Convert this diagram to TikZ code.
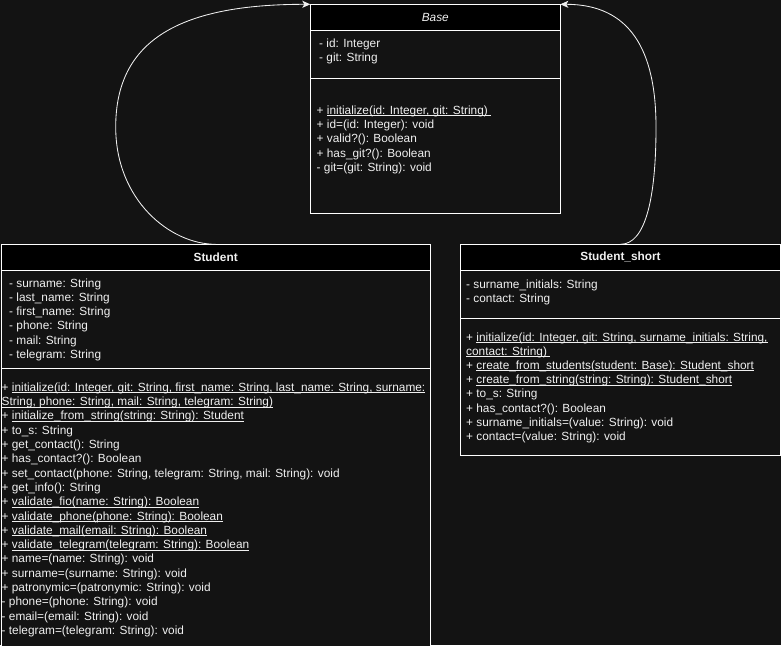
\documentclass[tikz,border=0pt]{standalone}
\usepackage{fontspec}
\setmainfont{Liberation Sans}
\usetikzlibrary{arrows.meta}
\definecolor{bg}{HTML}{131313}
\definecolor{fg}{HTML}{F0F0F0}
\newcommand\myul[1]{\setbox0\hbox{#1}\rlap{\rule[-1.7pt]{\wd0}{0.75pt}}\box0}
\begin{document}
\begin{tikzpicture}[x=1pt,y=-1pt,
  box/.style={draw=white, line width=0.9pt, fill=bg, anchor=north west, inner sep=0pt, outer sep=0pt},
  head/.style={draw=white, line width=0.9pt, fill=black, anchor=north west, inner sep=0pt, outer sep=0pt, text=fg, font=\fontsize{11.85}{14}\selectfont},
  txt/.style={anchor=base west, inner sep=0pt, text=fg, font=\fontsize{11.85}{14}\selectfont},
  sep/.style={draw=white, line width=0.9pt},
  inh/.style={draw=fg, line width=0.85pt, -{Stealth[length=8pt,width=7pt,inset=2pt]}}]
\fill[bg] (0,0) rectangle (781,645);
\useasboundingbox (0,0) rectangle (781,645);
\clip (0,0) rectangle (781,645);

% Base
\node[box, minimum width=250pt, minimum height=209.4pt] (base) at (310.3,4.3) {};
\node[head, minimum width=250pt, minimum height=26pt] (basehead) at (310.3,4.3) {\itshape Base};
\draw[sep] (310.3,78.7) coordinate (bs1) -- (560.3,78.7) coordinate (bs2);
\foreach \txtline [count=\i from 0] in {{- id: Integer},{- git: String}}
  \node[txt] (base-a\i) at (319,{47.6+14.2*\i}) {\txtline};
\foreach \txtline [count=\i from 0] in {
  {+ \myul{initialize(id: Integer, git: String)\ }},
  {+ id=(id: Integer): void},
  {+ valid?(): Boolean},
  {+ has\_git?(): Boolean},
  {- git=(git: String): void}}
  \node[txt] (base-m\i) at (316.5,{114.4+14.25*\i}) {\txtline};

% Student
\node[box, minimum width=429.3pt, minimum height=420pt] (student) at (1,244.3) {};
\node[head, minimum width=429.3pt, minimum height=25.7pt] (studenthead) at (1,244.3) {\bfseries Student};
\draw[sep] (1,368.3) coordinate (ss1) -- (430.3,368.3) coordinate (ss2);
\foreach \txtline [count=\i from 0] in {
  {- surname: String},
  {- last\_name: String},
  {- first\_name: String},
  {- phone: String},
  {- mail: String},
  {- telegram: String}}
  \node[txt] (student-a\i) at (9,{287.6+14.1*\i}) {\txtline};
\foreach \txtline [count=\i from 0] in {
  {+ \myul{initialize(id: Integer, git: String, first\_name: String, last\_name: String, surname:}},
  {\myul{String, phone: String, mail: String, telegram: String)}},
  {+ \myul{initialize\_from\_string(string: String): Student}},
  {+ to\_s: String},
  {+ get\_contact(): String},
  {+ has\_contact?(): Boolean},
  {+ set\_contact(phone: String, telegram: String, mail: String): void},
  {+ get\_info(): String},
  {+ \myul{validate\_fio(name: String): Boolean}},
  {+ \myul{validate\_phone(phone: String): Boolean}},
  {+ \myul{validate\_mail(email: String): Boolean}},
  {+ \myul{validate\_telegram(telegram: String): Boolean}},
  {+ name=(name: String): void},
  {+ surname=(surname: String): void},
  {+ patronymic=(patronymic: String): void},
  {- phone=(phone: String): void},
  {- email=(email: String): void},
  {- telegram=(telegram: String): void}}
  \node[txt] (student-m\i) at (1.5,{391.3+14.3*\i}) {\txtline};

% Student_short
\node[box, minimum width=320.4pt, minimum height=211.4pt] (short) at (460.3,244.3) {};
\node[head, minimum width=320.4pt, minimum height=25.7pt] (shorthead) at (460.3,244.3) {\bfseries Student\_short};
\draw[sep] (460.3,318.3) coordinate (sh1) -- (780.7,318.3) coordinate (sh2);
\foreach \txtline [count=\i from 0] in {
  {- surname\_initials: String},
  {- contact: String}}
  \node[txt] (short-a\i) at (466,{288+14*\i}) {\txtline};
\foreach \txtline [count=\i from 0] in {
  {+ \myul{initialize(id: Integer, git: String, surname\_initials: String,}},
  {\myul{contact: String)\ }},
  {+ \myul{create\_from\_students(student: Base): Student\_short}},
  {+ \myul{create\_from\_string(string: String): Student\_short}},
  {+ to\_s: String},
  {+ has\_contact?(): Boolean},
  {+ surname\_initials=(value: String): void},
  {+ contact=(value: String): void}}
  \node[txt] (short-m\i) at (466,{341+14.2*\i}) {\txtline};

% inheritance connectors
\draw[inh] (student.north) .. controls (170,244.3) and (115.7,200) .. (115.7,127)
  .. controls (115.7,40) and (180,4.3) .. (base.north west);
\draw[inh] (short.north) .. controls (645,244.3) and (656,200) .. (656,127)
  .. controls (656,50) and (630,4.3) .. (base.north east);
\end{tikzpicture}
\end{document}
